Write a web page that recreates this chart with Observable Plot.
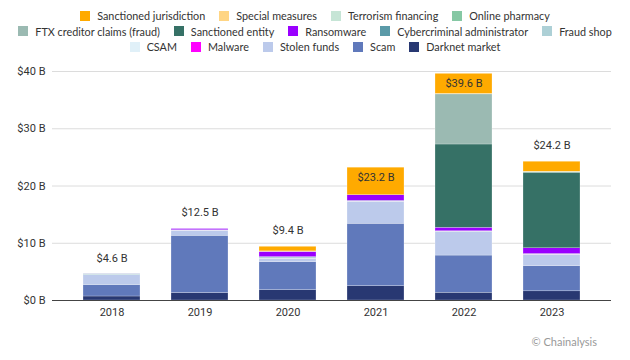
<!DOCTYPE html>
<html>
<head>
<meta charset="utf-8">
<script src="https://cdn.jsdelivr.net/npm/d3@7"></script>
<script src="https://cdn.jsdelivr.net/npm/@observablehq/plot@0.6"></script>
<style>
  html, body { margin: 0; padding: 0; background: #fff; }
  body { position: relative; width: 630px; height: 360px; overflow: hidden; }
  #legend { position: absolute; top: 8px; left: 0; width: 630px; font-family: Lato, sans-serif; font-size: 10.8px; color: #333; }
  .row { display: flex; justify-content: center; align-items: center; height: 15.5px; white-space: nowrap; }
  .item { display: flex; align-items: center; margin: 0 7px; }
  .sw { width: 10px; height: 10px; margin-right: 7px; display: inline-block; }
  #chart { position: absolute; top: 55px; left: 0; }
  #caption { position: absolute; top: 335px; right: 33px; font-family: Lato, sans-serif; font-size: 11px; color: #999; }
</style>
</head>
<body>
<div id="legend"></div>
<div id="chart"></div>
<div id="caption">© Chainalysis</div>
<script>
const years = ["2018", "2019", "2020", "2021", "2022", "2023"];

const categories = [
  "Sanctioned jurisdiction", "Special measures", "Terrorism financing", "Online pharmacy",
  "FTX creditor claims (fraud)", "Sanctioned entity", "Ransomware", "Cybercriminal administrator", "Fraud shop",
  "CSAM", "Malware", "Stolen funds", "Scam", "Darknet market"
];

const colors = [
  "#ffaa00", "#ffd584", "#c6e5d6", "#86c8a4",
  "#9bbab2", "#367166", "#9a00ff", "#5b9aa8", "#add0d6",
  "#e0f0f8", "#ff00ff", "#bccaeb", "#6079bb", "#283872"
];

// values in $ billions, per year (2018..2023)
const sanctionedJurisdiction = [0, 0, 0.8, 4.8, 3.5, 1.75];
const specialMeasures        = [0, 0, 0.1, 0, 0.05, 0.02];
const terrorismFinancing     = [0, 0, 0, 0, 0.02, 0.05];
const onlinePharmacy         = [0, 0, 0, 0, 0.02, 0.1];
const ftxCreditorClaims      = [0, 0, 0, 0, 8.75, 0];
const sanctionedEntity       = [0, 0, 0, 0, 14.55, 13.2];
const ransomware             = [0.01, 0.2, 0.9, 1.0, 0.6, 1.0];
const cybercriminalAdmin     = [0.08, 0.05, 0.05, 0.06, 0.06, 0.05];
const fraudShop              = [0.1, 0.05, 0.25, 0.1, 0.05, 0.03];
const csam                   = [0.02, 0.01, 0.01, 0.02, 0.02, 0.02];
const malware                = [0, 0.02, 0.02, 0.02, 0.02, 0.02];
const stolenFunds            = [1.7, 0.85, 0.55, 3.8, 4.1, 2.0];
const scam                   = [2.0, 10.0, 4.9, 10.9, 6.5, 4.4];
const darknetMarket          = [0.7, 1.3, 1.8, 2.5, 1.35, 1.6];

const totals = [4.6, 12.5, 9.4, 23.2, 39.6, 24.2];
const yTicks = [0, 10, 20, 30, 40];

const seriesByCategory = [
  sanctionedJurisdiction, specialMeasures, terrorismFinancing, onlinePharmacy,
  ftxCreditorClaims, sanctionedEntity, ransomware, cybercriminalAdmin, fraudShop,
  csam, malware, stolenFunds, scam, darknetMarket
];

// build long table: bottom of stack = Darknet market (last legend item)
const data = [];
for (let c = categories.length - 1; c >= 0; c--) {
  years.forEach((yr, i) => data.push({ year: yr, category: categories[c], value: seriesByCategory[c][i] }));
}
const labels = years.map((yr, i) => ({ year: yr, total: totals[i] }));
const insideYears = new Set(["2021", "2022"]);

// legend
const legend = document.getElementById("legend");
[[0, 4], [4, 9], [9, 14]].forEach(([a, b]) => {
  const row = document.createElement("div");
  row.className = "row";
  for (let i = a; i < b; i++) {
    const it = document.createElement("span");
    it.className = "item";
    const sw = document.createElement("span");
    sw.className = "sw";
    sw.style.background = colors[i];
    it.appendChild(sw);
    it.appendChild(document.createTextNode(categories[i]));
    row.appendChild(it);
  }
  legend.appendChild(row);
});

const fmt = v => `$${v.toFixed(1)} B`;

const chart = Plot.plot({
  width: 630,
  height: 305,
  marginTop: 16,
  marginBottom: 60,
  marginLeft: 52,
  marginRight: 19,
  style: { fontFamily: "Roboto, sans-serif", fontSize: "11px", color: "#333", background: "white" },
  x: { domain: years, paddingInner: 0.355, paddingOuter: 0.34, label: null },
  y: { domain: [0, 40], label: null },
  color: { domain: categories, range: colors },
  marks: [
    Plot.gridY(yTicks, { stroke: "#dcdcdc", strokeOpacity: 1 }),
    Plot.barY(data, { x: "year", y: "value", fill: "category", stroke: "white", strokeWidth: 0.4, strokeOpacity: 0.6 }),
    Plot.ruleY([0], { stroke: "#444", strokeWidth: 1 }),
    Plot.axisY(yTicks, { tickSize: 0, tickPadding: 7, tickFormat: d => `$${d} B`, label: null, fill: "#333" }),
    Plot.axisX({ tickSize: 0, tickPadding: 8, label: null, fill: "#333" }),
    Plot.text(labels.filter(d => !insideYears.has(d.year)), { x: "year", y: "total", text: d => fmt(d.total), dy: -16, fill: "#333" }),
    Plot.text(labels.filter(d => insideYears.has(d.year)), { x: "year", y: "total", text: d => fmt(d.total), dy: 10, fill: "#333" })
  ]
});
document.getElementById("chart").appendChild(chart);
</script>
</body>
</html>
